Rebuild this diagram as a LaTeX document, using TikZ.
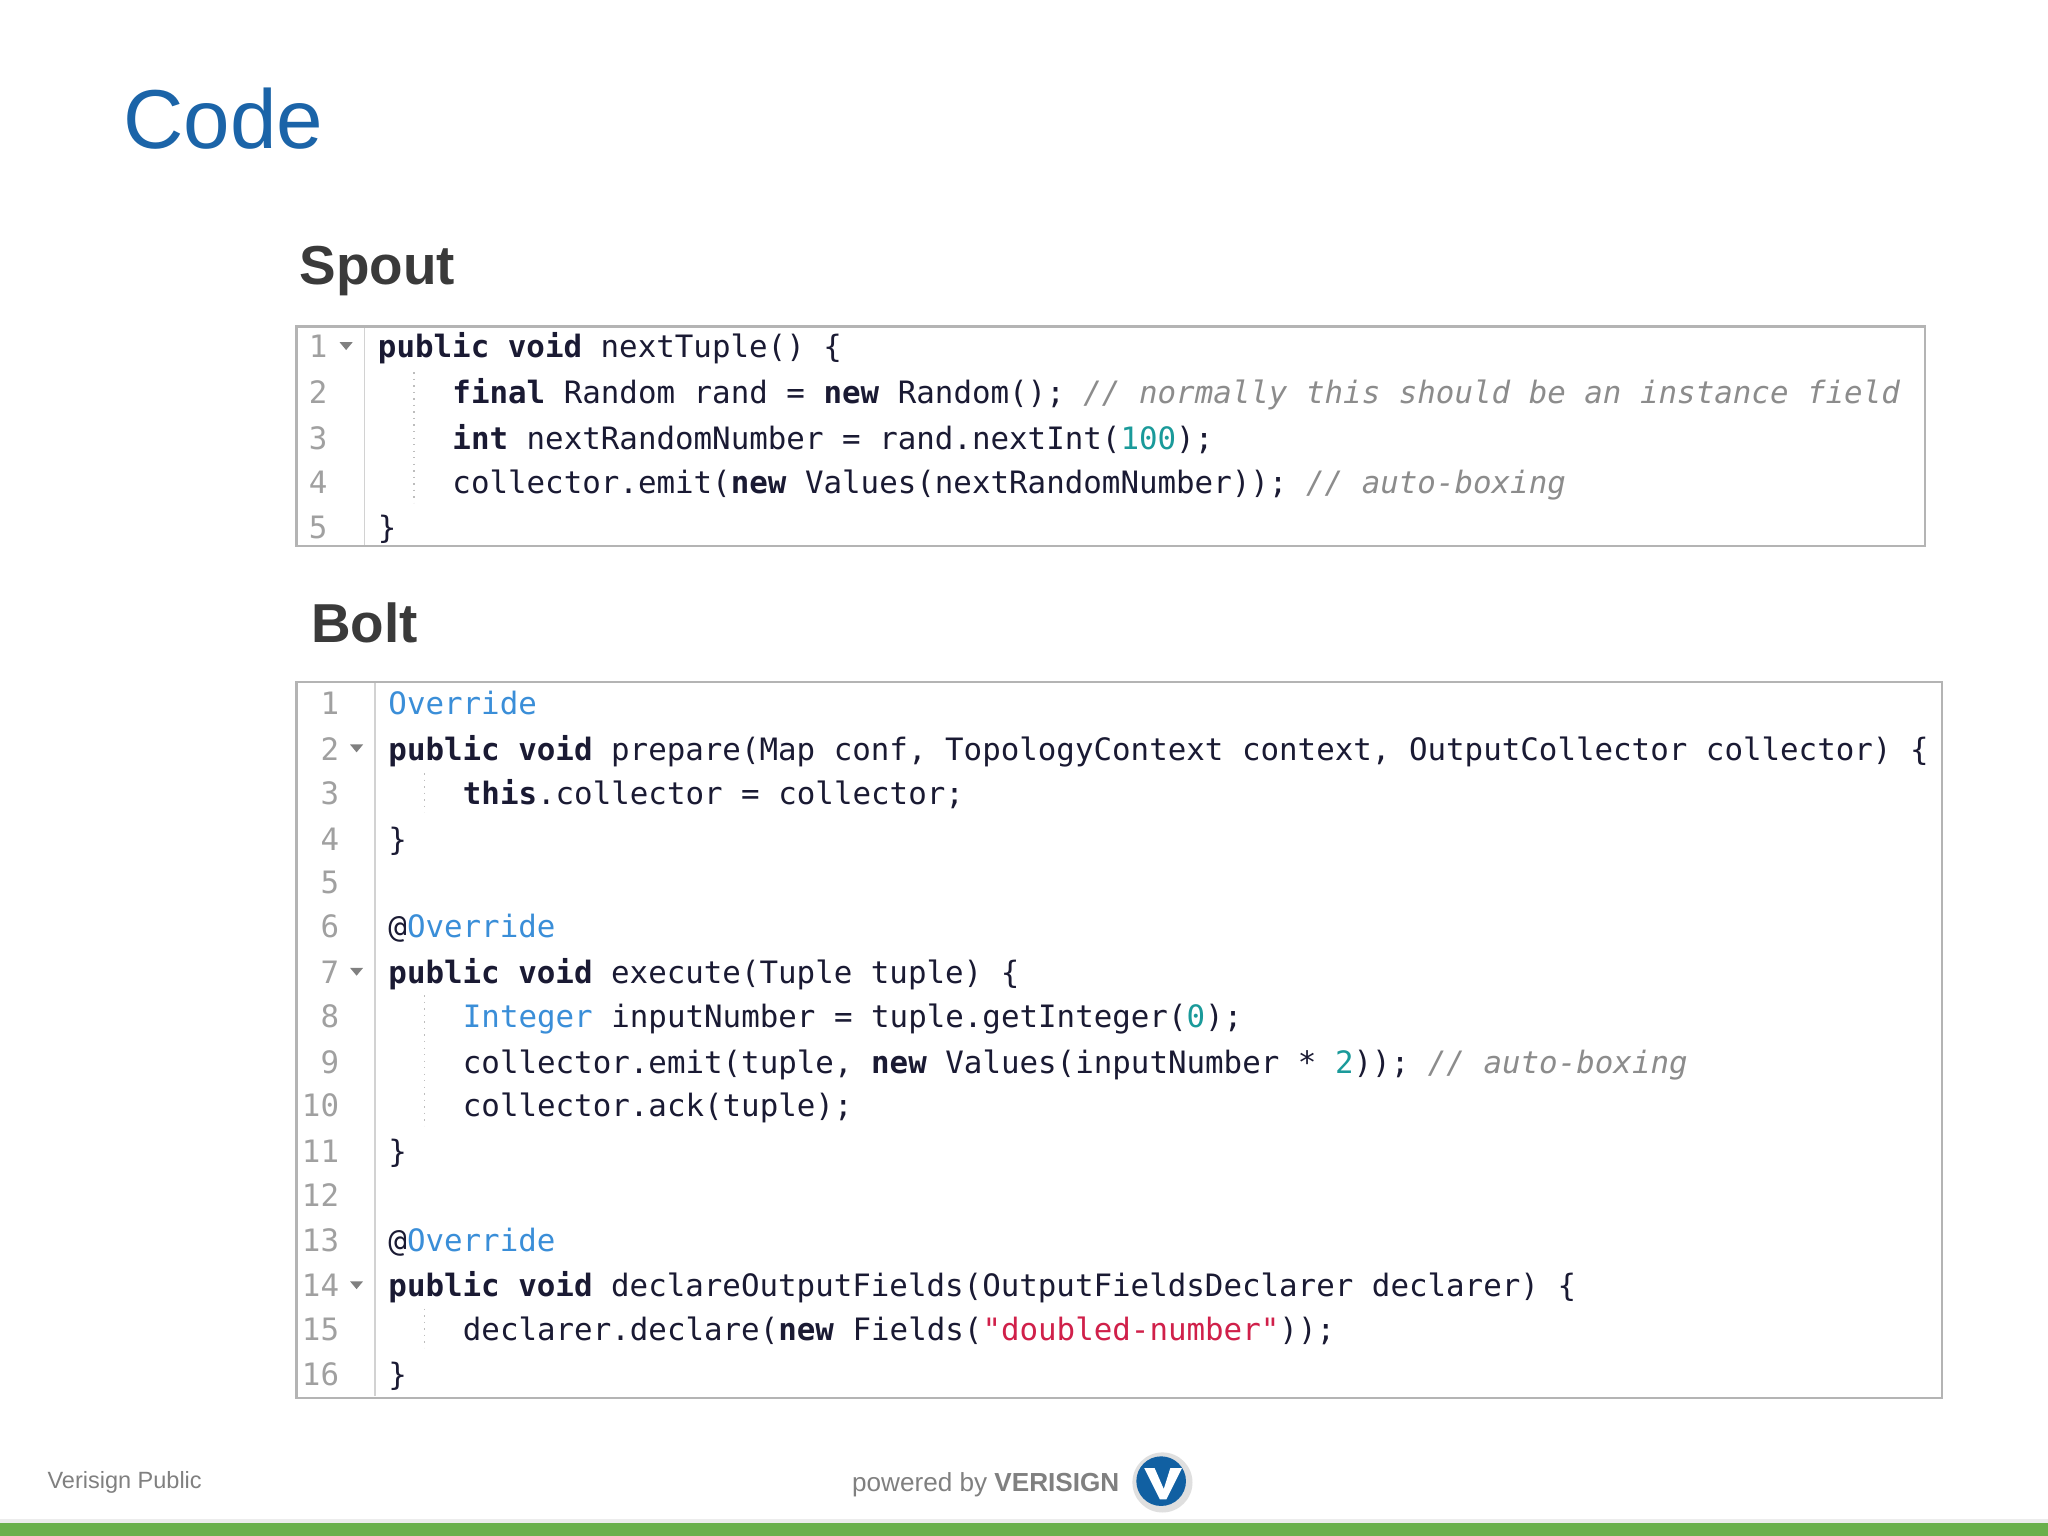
\documentclass[tikz,border=0pt]{standalone}
\usepackage{fontspec}
\setmainfont{Liberation Sans}
\newfontfamily\codefont{DejaVu Sans Mono}
\definecolor{titleblue}{HTML}{1B64A8}
\definecolor{headgray}{HTML}{3A3A3A}
\definecolor{kwc}{HTML}{1A1A33}
\definecolor{cmc}{HTML}{8C8C8C}
\definecolor{numc}{HTML}{1A9A9A}
\definecolor{annc}{HTML}{3A8ED8}
\definecolor{strc}{HTML}{D0204A}
\definecolor{lnc}{HTML}{A0A0A0}
\definecolor{boxc}{HTML}{B4B4B4}
\definecolor{greenbar}{HTML}{6AB04C}
\definecolor{logob}{HTML}{1160A2}
\newcommand{\kw}[1]{\textbf{#1}}
\newcommand{\cm}[1]{\textcolor{cmc}{\itshape #1}}
\newcommand{\nm}[1]{\textcolor{numc}{#1}}
\newcommand{\an}[1]{\textcolor{annc}{#1}}
\newcommand{\st}[1]{\textcolor{strc}{#1}}
\tikzset{
  code/.style={anchor=base west, inner sep=0pt, font=\codefont\fontsize{11.8}{14}\selectfont, text=kwc},
  lnum/.style={anchor=base east, inner sep=0pt, font=\codefont\fontsize{11.8}{14}\selectfont, text=lnc},
  head/.style={anchor=base west, inner sep=0pt, font=\bfseries\fontsize{21}{25}\selectfont, text=headgray},
  cbox/.style={draw=boxc, line width=0.8pt, fill=white},
  gut/.style={draw=boxc!60, line width=0.6pt},
  guide/.style={draw=lnc!70, line width=0.5pt, dotted},
  fold/.style={fill=lnc!80!black, draw=none}
}
\begin{document}
\begin{tikzpicture}[x=0.5pt,y=-0.5pt]
\useasboundingbox (0,0) rectangle (1568,1176);
\fill[white] (0,0) rectangle (1568,1176);
\fill[greenbar] (0,1166) rectangle (1568,1176);
\fill[gray!15] (0,1163) rectangle (1568,1166);
\node[anchor=base west, inner sep=0pt, text=titleblue, font=\fontsize{32}{38}\selectfont] (title) at (94,114) {Code};
\node[head] (spouth) at (229,218) {Spout};
\node[head] (bolth) at (238,492) {Bolt};
% Spout box
\draw[cbox] (227,250) rectangle (1474,418);
\draw[gut] (279,251) -- (279,417);
\draw[guide] (317,285) -- (317,385);
\foreach \n/\y in {1/265,2/300,3/335,4/369,5/403}
  \node[lnum] (sl\n) at (251,\y+9) {\n};
\fill[fold] (260,262) -- (270,262) -- (265,268) -- cycle;
\node[code] (s1) at (289,274) {\kw{public} \kw{void} nextTuple() \{};
\node[code] (s2) at (346,309) {\kw{final} Random rand = \kw{new} Random(); \cm{// normally this should be an instance field}};
\node[code] (s3) at (346,344) {\kw{int} nextRandomNumber = rand.nextInt(\nm{100});};
\node[code] (s4) at (346,378) {collector.emit(\kw{new} Values(nextRandomNumber)); \cm{// auto-boxing}};
\node[code] (s5) at (289,412) {\}};
% Bolt box
\draw[cbox] (227,522) rectangle (1487,1070);
\draw[gut] (287,523) -- (287,1069);
\draw[guide] (325,592) -- (325,622);
\draw[guide] (325,762) -- (325,862);
\draw[guide] (325,1002) -- (325,1032);
\foreach \n/\y in {1/538,2/573,3/607,4/642,5/675,6/709,7/744,8/778,9/813,10/846,11/881,12/915,13/949,14/984,15/1017,16/1052}
  \node[lnum] (bl\n) at (260,\y+9) {\n};
\foreach \y in {573,744,984}
  \fill[fold] (268,\y-3) -- (278,\y-3) -- (273,\y+3) -- cycle;
\node[code] (b1) at (297,547) {\an{Override}};
\node[code] (b2) at (297,582) {\kw{public} \kw{void} prepare(Map conf, TopologyContext context, OutputCollector collector) \{};
\node[code] (b3) at (354,616) {\kw{this}.collector = collector;};
\node[code] (b4) at (297,651) {\}};
\node[code] (b6) at (297,718) {@\an{Override}};
\node[code] (b7) at (297,753) {\kw{public} \kw{void} execute(Tuple tuple) \{};
\node[code] (b8) at (354,787) {\an{Integer} inputNumber = tuple.getInteger(\nm{0});};
\node[code] (b9) at (354,822) {collector.emit(tuple, \kw{new} Values(inputNumber * \nm{2})); \cm{// auto-boxing}};
\node[code] (b10) at (354,855) {collector.ack(tuple);};
\node[code] (b11) at (297,890) {\}};
\node[code] (b13) at (297,958) {@\an{Override}};
\node[code] (b14) at (297,993) {\kw{public} \kw{void} declareOutputFields(OutputFieldsDeclarer declarer) \{};
\node[code] (b15) at (354,1026) {declarer.declare(\kw{new} Fields(\st{"doubled-number"}));};
\node[code] (b16) at (297,1061) {\}};
% footer
\node[anchor=base west, inner sep=0pt, text=gray, font=\fontsize{9}{11}\selectfont] (pub) at (36,1140) {Verisign Public};
\node[anchor=base west, inner sep=0pt, text=gray, font=\fontsize{10}{12}\selectfont] (pow) at (652,1142) {powered by \textbf{VERISIGN}};
\fill[gray!25] (890,1135) circle (23);
\fill[logob] (889,1134) circle (19);
\fill[white] (876,1124) -- (884,1124) -- (891,1140) -- (896,1124) -- (905,1124) -- (893,1148) -- (888,1148) -- cycle;
\end{tikzpicture}
\end{document}
